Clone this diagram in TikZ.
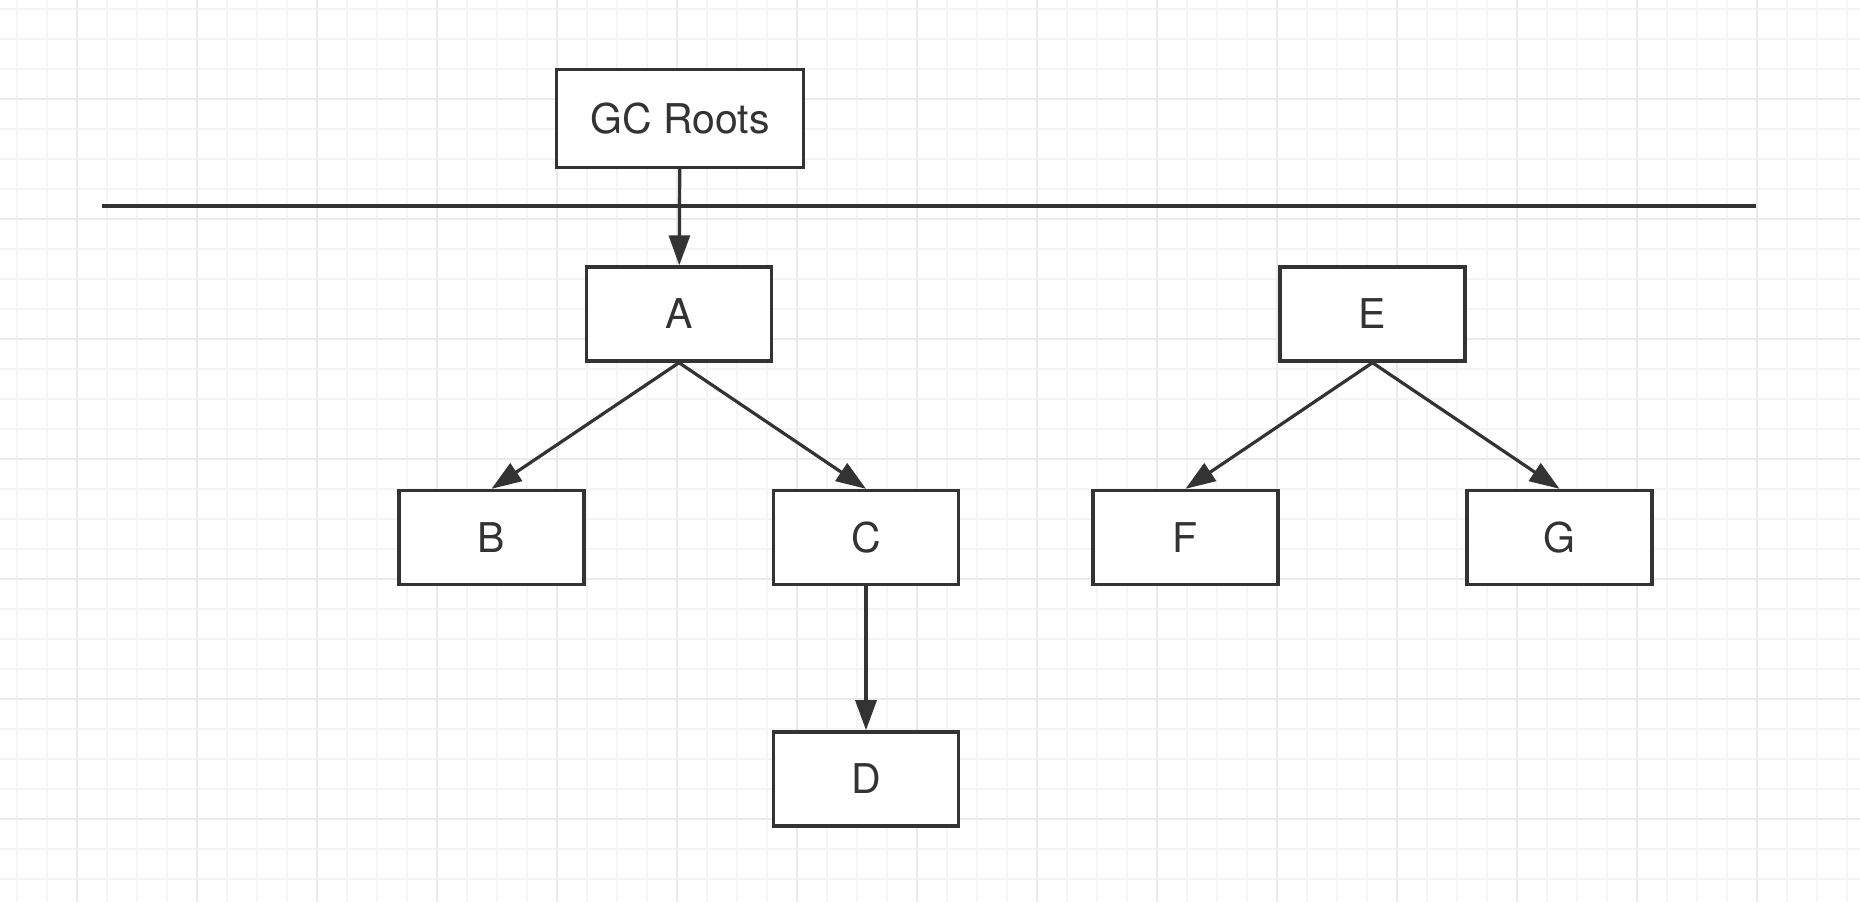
\documentclass[tikz,border=0pt]{standalone}
\usepackage{fontspec}
\setmainfont{TeX Gyre Heros}
\usepackage{tikz}
\usetikzlibrary{positioning, arrows.meta}
\usepackage{xcolor}
\definecolor{ink}{HTML}{333333}
\definecolor{gridminor}{HTML}{F5F5F5}
\definecolor{gridmajor}{HTML}{EBEBEB}

\begin{document}
\begin{tikzpicture}[x=0.5pt, y=-0.5pt,
	box/.style={draw=ink, line width=1.7pt, fill=white, text=ink,
		minimum width=92.5pt, minimum height=47pt, inner sep=0pt,
		font=\fontsize{20.5}{24}\selectfont},
	arr/.style={draw=ink, line width=1.6pt, -{Triangle[length=15pt, width=10.5pt]}},
	minorgrid/.style={draw=gridminor, line width=1pt},
	majorgrid/.style={draw=gridmajor, line width=1pt}]
	\fill[white] (0,0) rectangle (1860,902);
	\useasboundingbox (0,0) rectangle (1860,902);
	% grid
	\foreach \x in {17,47,...,1860} \draw[minorgrid] (\x,0) -- (\x,902);
	\foreach \y in {9,39,...,902} \draw[minorgrid] (0,\y) -- (1860,\y);
	\foreach \x in {77,197,...,1860} \draw[majorgrid] (\x,0) -- (\x,902);
	\foreach \y in {99,219,...,902} \draw[majorgrid] (0,\y) -- (1860,\y);
	
	\node[box, minimum width=123.5pt, minimum height=49pt] (gc) at (680,118.5) {GC Roots};
	\coordinate (ll) at (102,206);
	\coordinate (lr) at (1756,206);
	\draw[ink, line width=1.6pt] (ll) -- (lr);
	
	\node[box] (a) at (679,314) {A};
	\node[box] (b) at (491.5,537.5) {B};
	\node[box] (c) at (866,537.5) {C};
	\node[box, below=72pt of c] (d) {D};
	
	\node[box] (e) at (1372.5,314) {E};
	\node[box] (f) at (1185.5,537.5) {F};
	\node[box] (g) at (1559.5,537.5) {G};
	
	\draw[arr] (gc) -- (a);
	\draw[arr] (a.south) -- (b.north);
	\draw[arr] (a.south) -- (c.north);
	\draw[arr] (c) -- (d);
	\draw[arr] (e.south) -- (f.north);
	\draw[arr] (e.south) -- (g.north);
\end{tikzpicture}
\end{document}
